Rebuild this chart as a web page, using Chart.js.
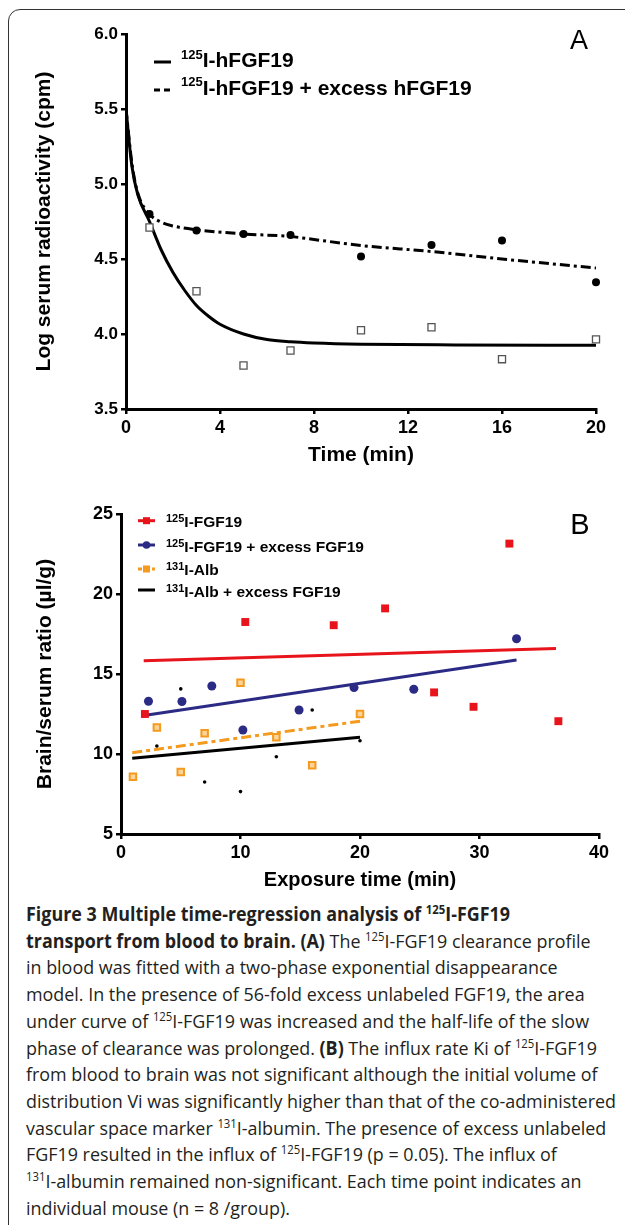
<!DOCTYPE html>
<html>
<head>
<meta charset="utf-8">
<script src="https://cdn.jsdelivr.net/npm/chart.js"></script>
<style>
html, body { margin: 0; padding: 0; background: #fff; }
body { width: 625px; height: 1225px; position: relative; overflow: hidden; }
#frame { position: absolute; left: 8px; top: 9px; width: 700px; height: 1300px; border: 1.4px solid #333; border-top-left-radius: 12px; box-sizing: border-box; }
#wrapA { position: absolute; left: 0; top: 0; width: 625px; height: 480px; }
#wrapB { position: absolute; left: 0; top: 480px; width: 625px; height: 420px; }
#caption { position: absolute; left: 26px; top: 901px; font-family: 'Open Sans', sans-serif; font-size: 19px; line-height: 26.7px; color: #231f20; transform-origin: 0 0; white-space: nowrap; }
#caption sup { font-size: 12px; line-height: 0; vertical-align: 0; position: relative; top: -7px; }
</style>
</head>
<body>
<div id="frame"></div>
<div id="wrapA"><canvas id="chartA"></canvas></div>
<div id="wrapB"><canvas id="chartB"></canvas></div>
<div id="caption">
<div class="ln"><span><b>Figure 3 Multiple time-regression analysis of <sup>125</sup>I-FGF19</b></span></div>
<div class="ln"><span><b>transport from blood to brain. (A)</b> The <sup>125</sup>I-FGF19 clearance profile</span></div>
<div class="ln"><span>in blood was fitted with a two-phase exponential disappearance</span></div>
<div class="ln"><span>model. In the presence of 56-fold excess unlabeled FGF19, the area</span></div>
<div class="ln"><span>under curve of <sup>125</sup>I-FGF19 was increased and the half-life of the slow</span></div>
<div class="ln"><span>phase of clearance was prolonged. <b>(B)</b> The influx rate Ki of <sup>125</sup>I-FGF19</span></div>
<div class="ln"><span>from blood to brain was not significant although the initial volume of</span></div>
<div class="ln" id="longest"><span>distribution Vi was significantly higher than that of the co-administered</span></div>
<div class="ln"><span>vascular space marker <sup>131</sup>I-albumin. The presence of excess unlabeled</span></div>
<div class="ln"><span>FGF19 resulted in the influx of <sup>125</sup>I-FGF19 (p = 0.05). The influx of</span></div>
<div class="ln"><span><sup>131</sup>I-albumin remained non-significant. Each time point indicates an</span></div>
<div class="ln"><span>individual mouse (n = 8 /group).</span></div>
</div>
<script>
// ---- panel A: serum clearance ----
const timeA = [1, 3, 5, 7, 10, 13, 16, 20];
const hfgf19 = [4.71, 4.285, 3.79, 3.89, 4.025, 4.045, 3.832, 3.964];
const hfgf19Excess = [4.80, 4.69, 4.666, 4.66, 4.516, 4.594, 4.623, 4.345];
// fitted curves
const fitTime = [0, 0.25, 0.5, 1, 1.5, 2, 2.5, 3, 3.5, 4, 5, 6, 7, 8, 10, 14, 20];
const fitHfgf19 = [5.5, 5.12, 4.93, 4.75, 4.56, 4.41, 4.29, 4.19, 4.12, 4.065, 4.0, 3.963, 3.948, 3.94, 3.932, 3.927, 3.925];
const fitTimeExcess = [0, 0.25, 0.5, 1, 1.5, 2, 3, 5, 7, 8, 10, 13, 16, 20];
const fitExcess = [5.5, 5.14, 4.94, 4.8, 4.745, 4.72, 4.695, 4.667, 4.65, 4.63, 4.59, 4.55, 4.50, 4.44];

// ---- panel B: brain/serum ratio ----
const fgfTime = [2, 10.4, 17.8, 22.1, 26.2, 29.5, 32.5, 36.6];
const fgfRatio = [12.5, 18.25, 18.05, 19.1, 13.85, 12.95, 23.15, 12.05];
const fgfExTime = [2.3, 5.1, 7.6, 10.2, 14.9, 19.5, 24.5, 33.1];
const fgfExRatio = [13.3, 13.28, 14.25, 11.5, 12.75, 14.15, 14.05, 17.2];
const albTime = [1, 3, 5, 7, 10, 13, 16, 20];
const albRatio = [8.58, 11.65, 8.88, 11.3, 14.45, 11.05, 9.3, 12.5];
const albExRatio = [8.55, 10.5, 14.07, 8.25, 7.65, 9.83, 12.75, 10.83];
// regression lines (end points)
const fgfFitT = [1.9, 36.4], fgfFit = [15.83, 16.6];
const fgfExFitT = [2.2, 33.1], fgfExFit = [12.44, 15.87];
const albFitT = [0.94, 20.1], albFit = [10.08, 12.06];
const albExFitT = [0.94, 20.0], albExFit = [9.73, 11.04];

const FONT = "'Liberation Sans', Arial, sans-serif";
Chart.defaults.font.family = FONT;
Chart.defaults.color = '#000';

const pts = (xs, ys) => xs.map((x, i) => ({ x: x, y: ys[i] }));

function supText(ctx, x, y, sup, text, size, supSize, raise) {
  ctx.font = 'bold ' + supSize + 'px ' + FONT;
  ctx.fillText(sup, x, y - raise);
  const w = ctx.measureText(sup).width;
  ctx.font = 'bold ' + size + 'px ' + FONT;
  ctx.fillText(text, x + w, y);
}

function axis(min, max, step, tickSize, fit, cb) {
  return {
    type: 'linear', min: min, max: max,
    border: { display: true, color: '#000', width: 3 },
    grid: { drawOnChartArea: false, color: '#000', lineWidth: 2.5, tickLength: 5 },
    ticks: { stepSize: step, color: '#000', font: { size: tickSize, weight: 'bold' }, padding: 3, maxRotation: 0, callback: cb },
    afterFit: fit
  };
}

const legendA = {
  id: 'legendA',
  afterDraw(chart) {
    const ctx = chart.ctx;
    ctx.save();
    ctx.strokeStyle = '#000';
    ctx.lineWidth = 3;
    ctx.beginPath(); ctx.moveTo(154, 62); ctx.lineTo(171, 62); ctx.stroke();
    ctx.setLineDash([6, 4]);
    ctx.beginPath(); ctx.moveTo(154, 90); ctx.lineTo(171, 90); ctx.stroke();
    ctx.setLineDash([]);
    ctx.fillStyle = '#000';
    ctx.textBaseline = 'alphabetic';
    supText(ctx, 181, 67, '125', 'I-hFGF19', 21, 13, 8.5);
    supText(ctx, 181, 94.5, '125', 'I-hFGF19 + excess hFGF19', 21, 13, 8.5);
    ctx.font = '27px ' + FONT;
    ctx.textAlign = 'center';
    ctx.textBaseline = 'middle';
    ctx.fillText('A', 579, 42);
    ctx.restore();
  }
};

new Chart(document.getElementById('chartA'), {
  type: 'scatter',
  data: {
    datasets: [
      { data: pts(timeA, hfgf19), pointStyle: 'rect', pointRadius: 5, backgroundColor: '#fff', borderColor: '#555', borderWidth: 1.3, order: 0, clip: false },
      { data: pts(timeA, hfgf19Excess), pointStyle: 'circle', pointRadius: 4, backgroundColor: '#000', borderColor: '#000', borderWidth: 0, order: 0, clip: false },
      { data: pts(fitTime, fitHfgf19), showLine: true, pointRadius: 0, borderColor: '#000', borderWidth: 3, cubicInterpolationMode: 'monotone', order: 1 },
      { data: pts(fitTimeExcess, fitExcess), showLine: true, pointRadius: 0, borderColor: '#000', borderWidth: 3, borderDash: [10, 4, 3, 4], cubicInterpolationMode: 'monotone', order: 1 }
    ]
  },
  options: {
    responsive: true,
    maintainAspectRatio: false,
    animation: false,
    layout: { padding: { left: 0, right: 29, top: 34, bottom: 0 } },
    plugins: { legend: { display: false }, tooltip: { enabled: false } },
    scales: {
      x: Object.assign(axis(0, 20, 4, 18, s => { s.height = 71; }), {
        title: { display: true, text: 'Time (min)', color: '#000', font: { size: 21, weight: 'bold' }, padding: { top: 0, bottom: 12 } }
      }),
      y: Object.assign(axis(3.5, 6.0, 0.5, 17, s => { s.width = 126; }, v => v.toFixed(1)), {
        title: { display: true, text: 'Log serum radioactivity (cpm)', color: '#000', font: { size: 21, weight: 'bold' }, padding: { top: 32, bottom: 0 } }
      })
    }
  },
  plugins: [legendA]
});

const legendB = {
  id: 'legendB',
  afterDraw(chart) {
    const ctx = chart.ctx;
    ctx.save();
    ctx.lineWidth = 3;
    const rows = [
      { y: 40.7, color: '#e8141b', mark: 'sq', dash: [] },
      { y: 65, color: '#2b2a85', mark: 'ci', dash: [] },
      { y: 89, color: '#f39a1f', mark: 'sq', dash: [4, 3] },
      { y: 110, color: '#000', mark: null, dash: [] }
    ];
    rows.forEach(r => {
      ctx.strokeStyle = r.color;
      ctx.setLineDash(r.dash);
      ctx.beginPath(); ctx.moveTo(138, r.y); ctx.lineTo(155, r.y); ctx.stroke();
      ctx.setLineDash([]);
      ctx.fillStyle = r.color;
      if (r.mark === 'sq') ctx.fillRect(143, r.y - 3.5, 7, 7);
      if (r.mark === 'ci') { ctx.beginPath(); ctx.arc(146.5, r.y, 3.8, 0, Math.PI * 2); ctx.fill(); }
    });
    ctx.fillStyle = '#000';
    supText(ctx, 166, 47, '125', 'I-FGF19', 15.5, 11, 5.5);
    supText(ctx, 166, 72, '125', 'I-FGF19 + excess FGF19', 15.5, 11, 5.5);
    supText(ctx, 166, 95, '131', 'I-Alb', 15.5, 11, 5.5);
    supText(ctx, 166, 117, '131', 'I-Alb + excess FGF19', 15.5, 11, 5.5);
    ctx.font = '29px ' + FONT;
    ctx.textAlign = 'center';
    ctx.textBaseline = 'middle';
    ctx.fillText('B', 580, 46);
    ctx.restore();
  }
};

new Chart(document.getElementById('chartB'), {
  type: 'scatter',
  data: {
    datasets: [
      { data: pts(fgfTime, fgfRatio), pointStyle: 'rect', pointRadius: 5.6, backgroundColor: '#e8141b', borderColor: '#e8141b', borderWidth: 0, order: 0, clip: false },
      { data: pts(fgfExTime, fgfExRatio), pointStyle: 'circle', pointRadius: 4.5, backgroundColor: '#2b2a85', borderColor: '#2b2a85', borderWidth: 0, order: 0, clip: false },
      { data: pts(albTime, albRatio), pointStyle: 'rect', pointRadius: 4.6, backgroundColor: '#fcd49a', borderColor: '#f39a1f', borderWidth: 2, order: 0, clip: false },
      { data: pts(albTime, albExRatio), pointStyle: 'circle', pointRadius: 1.8, backgroundColor: '#000', borderColor: '#000', borderWidth: 0, order: 0, clip: false },
      { data: pts(fgfFitT, fgfFit), showLine: true, pointRadius: 0, borderColor: '#e8141b', borderWidth: 3, order: 1 },
      { data: pts(fgfExFitT, fgfExFit), showLine: true, pointRadius: 0, borderColor: '#2b2a85', borderWidth: 3, order: 1 },
      { data: pts(albFitT, albFit), showLine: true, pointRadius: 0, borderColor: '#f39a1f', borderWidth: 3, borderDash: [10, 4, 4, 4], order: 1 },
      { data: pts(albExFitT, albExFit), showLine: true, pointRadius: 0, borderColor: '#000', borderWidth: 3, order: 1 }
    ]
  },
  options: {
    responsive: true,
    maintainAspectRatio: false,
    animation: false,
    layout: { padding: { left: 0, right: 26, top: 34, bottom: 0 } },
    plugins: { legend: { display: false }, tooltip: { enabled: false } },
    scales: {
      x: Object.assign(axis(0, 40, 10, 18, s => { s.height = 66; }), {
        title: { display: true, text: 'Exposure time (min)', color: '#000', font: { size: 20, weight: 'bold' }, padding: { top: 0, bottom: 8 } }
      }),
      y: Object.assign(axis(5, 25, 5, 18, s => { s.width = 121; }), {
        title: { display: true, text: 'Brain/serum ratio (µl/g)', color: '#000', font: { size: 21, weight: 'bold' }, padding: { top: 33, bottom: 0 } }
      })
    }
  },
  plugins: [legendB]
});

// squeeze the caption so the longest line is as wide as in the figure
const longest = document.querySelector('#longest span');
const w = longest.getBoundingClientRect().width;
document.getElementById('caption').style.transform = 'scaleX(' + (590 / w) + ')';
</script>
</body>
</html>
